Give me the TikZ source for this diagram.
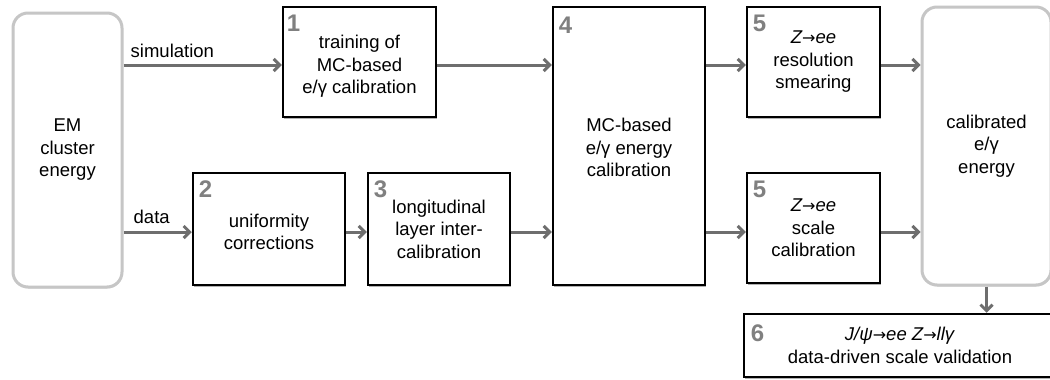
\documentclass[tikz,border=0pt]{standalone}
\usepackage{fontspec}
\setmainfont{Liberation Sans}
\newfontfamily\arrowfont{DejaVu Sans}
\newcommand{\rarr}{{\arrowfont\upshape\fontsize{16}{16}\selectfont →}}
\newcommand{\lowerby}[1]{\rule{0pt}{#1}}
\usetikzlibrary{arrows.meta,shadows,calc}
\definecolor{arrgray}{HTML}{6E6E6E}
\definecolor{numgray}{HTML}{808080}
\definecolor{roundgray}{HTML}{C6C6C6}
\begin{document}
\begin{tikzpicture}[x=1pt,y=-1pt,
  box/.style={draw=black, line width=2.5pt, fill=white, align=center, inner sep=0pt,
    font=\fontsize{18.5}{22.5}\selectfont,
    drop shadow={shadow xshift=1pt, shadow yshift=-1.5pt, opacity=0.3, fill=black}},
  rbox/.style={draw=roundgray, line width=3pt, fill=white, rounded corners=15pt, align=center, inner sep=0pt,
    font=\fontsize{18.5}{22.5}\selectfont,
    drop shadow={shadow xshift=0.5pt, shadow yshift=-1.5pt, opacity=0.15, fill=black}},
  num/.style={text=numgray, font=\fontsize{24}{24}\bfseries\selectfont, inner sep=0pt, anchor=north west},
  lbl/.style={font=\fontsize{18.5}{22.5}\selectfont, inner sep=0pt, anchor=base west},
  arr/.style={draw=arrgray, line width=3pt, -{Straight Barb[length=6pt, width=12pt, line width=3pt]}}
]
\useasboundingbox (0,0) rectangle (1050,380);
\fill[white] (0,0) rectangle (1050,380);

% boxes
\node[rbox, minimum width=109pt, minimum height=274pt] (em) at (67.5,150) {EM\\cluster\\energy};
\node[box, minimum width=153pt, minimum height=110pt] (b1) at (359.5,62) {\lowerby{22pt}training of\\MC-based\\e/γ calibration};
\node[box, minimum width=152pt, minimum height=112pt] (b2) at (269,229) {\lowerby{19pt}uniformity\\corrections};
\node[box, minimum width=142pt, minimum height=112pt] (b3) at (439,229) {longitudinal\\layer inter-\\calibration};
\node[box, minimum width=152pt, minimum height=278pt] (b4) at (629,146) {\lowerby{17pt}MC-based\\e/γ energy\\calibration};
\node[box, minimum width=133pt, minimum height=110pt] (b5a) at (813.5,62) {\textit{Z\rarr ee}\\resolution\\smearing};
\node[box, minimum width=133pt, minimum height=110pt] (b5b) at (813.5,228) {\textit{Z\rarr ee}\\scale\\calibration};
\node[rbox, minimum width=129pt, minimum height=278pt] (cal) at (986.5,146) {calibrated\\e/γ\\energy};
\node[box, minimum width=312pt, minimum height=63pt] (b6) at (900,345.5) {\textit{J/ψ\rarr ee Z\rarr llγ}\\data-driven scale validation};

% step numbers
\node[num] (n1) at ($(b1.north west)+(5,9)$) {1};
\node[num] (n2) at ($(b2.north west)+(7,9)$) {2};
\node[num] (n3) at ($(b3.north west)+(7,9)$) {3};
\node[num] (n4) at ($(b4.north west)+(7,11)$) {4};
\node[num] (n5a) at ($(b5a.north west)+(7,9)$) {5};
\node[num] (n5b) at ($(b5b.north west)+(7,9)$) {5};
\node[num] (n6) at ($(b6.north west)+(8,12)$) {6};

% connectors
\coordinate (yt) at (0,65);
\coordinate (yb) at (0,232);
\draw[arr] (em.east|-yt) -- (b1.west|-yt);
\draw[arr] (em.east|-yb) -- (b2.west|-yb);
\draw[arr] (b1.east|-yt) -- (b4.west|-yt);
\draw[arr] (b2.east|-yb) -- (b3.west|-yb);
\draw[arr] (b3.east|-yb) -- (b4.west|-yb);
\draw[arr] (b4.east|-yt) -- (b5a.west|-yt);
\draw[arr] (b4.east|-yb) -- (b5b.west|-yb);
\draw[arr] (b5a.east|-yt) -- (cal.west|-yt);
\draw[arr] (b5b.east|-yb) -- (cal.west|-yb);
\draw[arr] (cal.south) -- (cal.south|-b6.north);

% connector labels
\node[lbl] (lsim) at ($(em.east|-yt)+(7,-8)$) {simulation};
\node[lbl] (ldata) at ($(em.east|-yb)+(10,-9)$) {data};
\end{tikzpicture}
\end{document}
